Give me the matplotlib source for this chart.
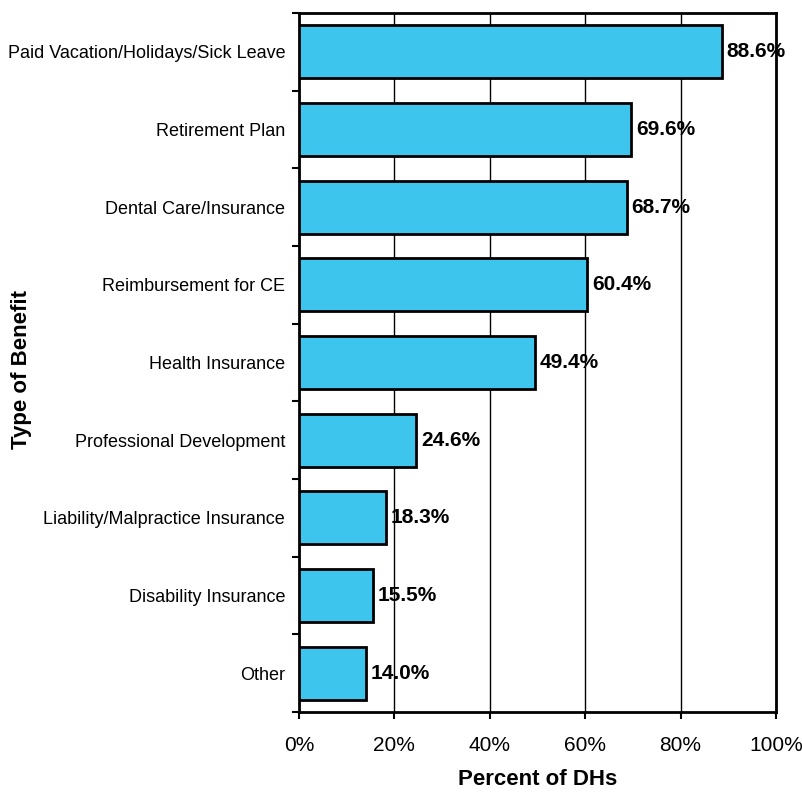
import numpy as np
import matplotlib.pyplot as plt
from matplotlib.ticker import FixedLocator

benefits = ['Paid Vacation/Holidays/Sick Leave', 'Retirement Plan', 'Dental Care/Insurance',
            'Reimbursement for CE', 'Health Insurance', 'Professional Development',
            'Liability/Malpractice Insurance', 'Disability Insurance', 'Other']
percent = [88.6, 69.6, 68.7, 60.4, 49.4, 24.6, 18.3, 15.5, 14.0]
xticks = [0, 20, 40, 60, 80, 100]

plt.rcParams['font.family'] = ['Liberation Sans', 'DejaVu Sans']

fig = plt.figure(figsize=(8.03, 7.92), dpi=100)
ax = fig.add_axes([0.3724, 0.101, 0.594, 0.8826])

y = np.arange(len(benefits))
ax.barh(y, percent, height=0.68, color='#3EC5EE', edgecolor='black', linewidth=2, zorder=3)

# value labels just past the bar ends
for yi, v in zip(y, percent):
    ax.text(v + 1.0, yi, '%.1f%%' % v, va='center', ha='left', fontsize=15,
            fontweight='bold', zorder=4)

ax.set_ylim(len(benefits) - 0.5, -0.5)
ax.set_xlim(0, 100)
ax.set_yticks(y)
ax.set_yticklabels(benefits, fontsize=13)
ax.yaxis.set_minor_locator(FixedLocator(np.arange(-0.5, len(benefits), 1)))
ax.tick_params(axis='y', which='major', length=0, pad=10)
ax.tick_params(axis='y', which='minor', length=5, width=1.5, direction='out')
ax.set_xticks(xticks)
ax.set_xticklabels(['%d%%' % t for t in xticks], fontsize=15)
ax.tick_params(axis='x', length=5, width=1.5, direction='out', pad=12)

ax.grid(axis='x', color='black', linewidth=1, zorder=0)
for s in ax.spines.values():
    s.set_linewidth(2)

ax.set_xlabel('Percent of DHs', fontsize=16, fontweight='bold', labelpad=10)
ax.set_ylabel('Type of Benefit', fontsize=16, fontweight='bold')
ax.yaxis.set_label_coords(-0.56, 0.49)

plt.savefig('out.png')
